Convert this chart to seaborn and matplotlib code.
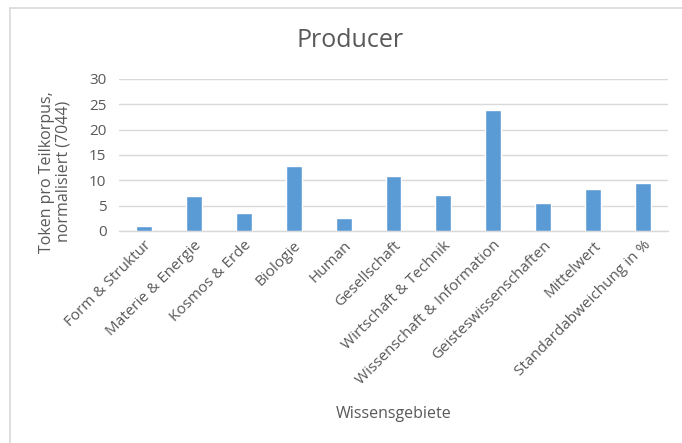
import matplotlib
matplotlib.use("Agg")
import matplotlib.pyplot as plt
from matplotlib.lines import Line2D
import seaborn as sns
import pandas as pd

categories = [
    "Form & Struktur", "Materie & Energie", "Kosmos & Erde", "Biologie", "Human",
    "Gesellschaft", "Wirtschaft & Technik", "Wissenschaft & Information",
    "Geisteswissenschaften", "Mittelwert", "Standardabweichung in %",
]
values = [1.0, 6.9, 3.5, 12.8, 2.5, 10.8, 7.1, 23.9, 5.5, 8.2, 9.4]
y_ticks = [0, 5, 10, 15, 20, 25, 30]

df = pd.DataFrame({"Wissensgebiete": categories, "Token": values})

sns.set_theme(style="white")
plt.rcParams["font.family"] = ["Open Sans", "DejaVu Sans"]
text_color = "#595959"
grid_color = "#D9D9D9"

fig = plt.figure(figsize=(6.82, 4.43), dpi=100)
ax = fig.add_axes([0.1745, 0.4786, 0.805, 0.3431])

sns.barplot(data=df, x="Wissensgebiete", y="Token", color="#5B9BD5",
            width=0.32, saturation=1, ax=ax, zorder=3)

ax.set_ylim(0, 30)
ax.set_yticks(y_ticks)
ax.set_yticklabels([str(t) for t in y_ticks], fontsize=11, color=text_color)
ax.set_xlim(-0.5, len(categories) - 0.5)
ax.set_xticks(range(len(categories)))
ax.set_xticklabels(categories, rotation=45, ha="right", rotation_mode="anchor",
                   fontsize=11, color=text_color)
ax.tick_params(axis="y", length=0, pad=9)
ax.tick_params(axis="x", length=0, pad=5)

ax.grid(axis="y", color=grid_color, linewidth=1, zorder=0)
ax.set_axisbelow(True)
for side in ["top", "right", "left"]:
    ax.spines[side].set_visible(False)
ax.spines["bottom"].set_color(grid_color)
ax.spines["bottom"].set_linewidth(1)

ax.set_xlabel("Wissensgebiete", fontsize=11.5, color=text_color)
ax.xaxis.set_label_coords(0.5, -1.15)
ax.set_ylabel("Token pro Teilkorpus,\nnormalisiert (7044)", fontsize=11.5,
              color=text_color, linespacing=1.05)
ax.yaxis.set_label_coords(-0.087, 0.39)

fig.text(0.513, 0.908, "Producer", fontsize=18, color=text_color,
         ha="center", va="center")

# chart frame edges at left and top
fig.add_artist(Line2D([10 / 682, 10 / 682], [0, 1 - 8 / 443], transform=fig.transFigure,
                      color="#D9D9D9", linewidth=1.2))
fig.add_artist(Line2D([10 / 682, 1], [1 - 8 / 443, 1 - 8 / 443], transform=fig.transFigure,
                      color="#D9D9D9", linewidth=1.2))

fig.savefig("out.png", dpi=100, facecolor="white")
